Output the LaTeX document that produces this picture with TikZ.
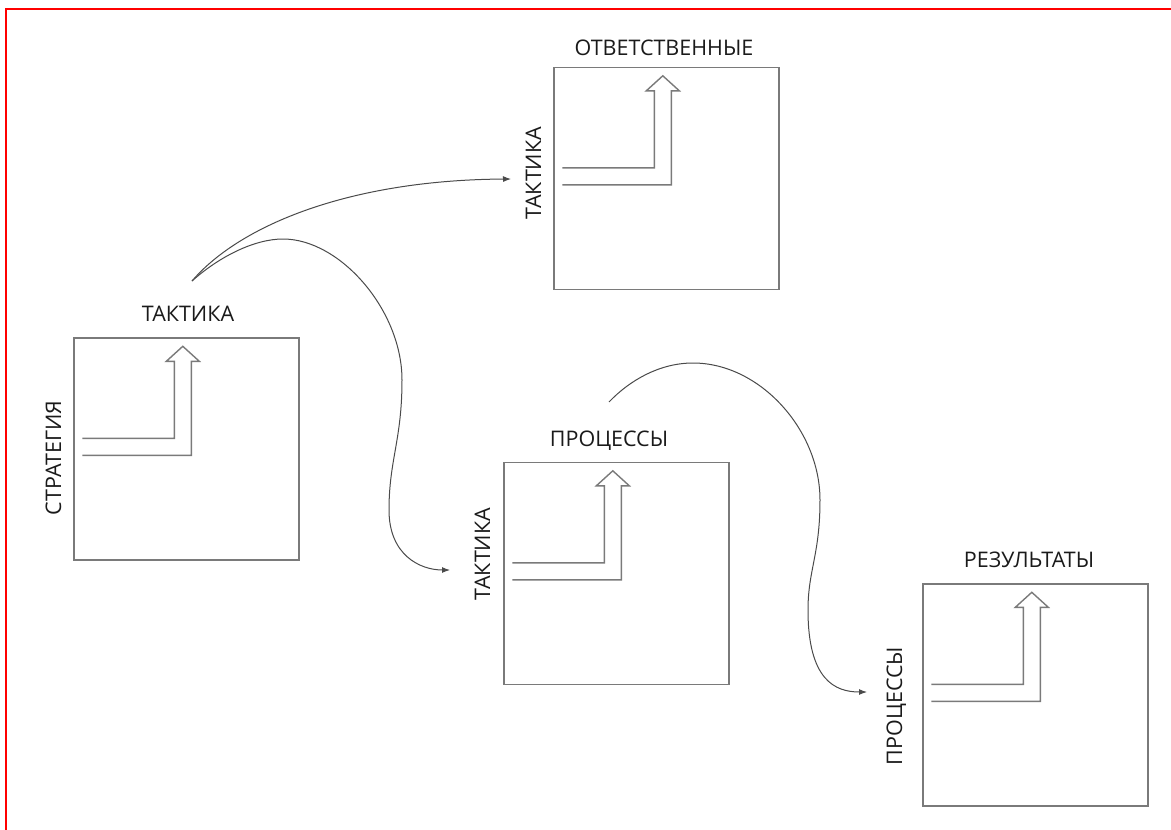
\documentclass[tikz,border=0pt]{standalone}
\usepackage{fontspec}
\setmainfont{Open Sans}
\usetikzlibrary{arrows.meta}
\definecolor{boxgray}{HTML}{7A7A7A}
\definecolor{curvegray}{HTML}{4A4A4A}
\definecolor{txt}{HTML}{1A1A1A}
\tikzset{
  box/.style={draw=boxgray, line width=1.4pt, minimum width=225pt, minimum height=222pt, inner sep=0pt},
  lbl/.style={text=txt, font=\fontsize{21.5}{24}\selectfont, inner sep=0pt, anchor=base},
  vlbl/.style={lbl, rotate=90},
  flow/.style={draw=curvegray, line width=1pt, -{Latex[length=8pt,width=6pt]}},
  bent/.pic={
    \draw[boxgray, line width=1.4pt, line join=miter]
      (9,101) -- (101,101) -- (101,24) -- (93,24) -- (109.5,9) -- (126,24) -- (118,24) -- (118,118) -- (9,118);
  }
}
\begin{document}
\begin{tikzpicture}[x=1pt,y=-1pt]
\useasboundingbox (0,0) rectangle (1171,830);
% red frame
\draw[red, line width=2.5pt] (6,830) -- (6,9) -- (1171,9);
% boxes
\node[box] (b1) at (186.5,449) {};
\node[box] (b2) at (666.5,178.5) {};
\node[box] (b3) at (616.5,573.5) {};
\node[box] (b4) at (1035.5,695) {};
\pic at (b1.north west) {bent};
\pic at (b2.north west) {bent};
\pic at (b3.north west) {bent};
\pic at (b4.north west) {bent};
% top labels
\node[lbl] (t1) at (188,321) {ТАКТИКА};
\node[lbl] (t2) at (664,55) {ОТВЕТСТВЕННЫЕ};
\node[lbl] (t3) at (609,446) {ПРОЦЕССЫ};
\node[lbl] (t4) at (1029,567) {РЕЗУЛЬТАТЫ};
% side labels
\node[vlbl] (s1) at (61,458) {СТРАТЕГИЯ};
\node[vlbl] (s2) at (541,173) {ТАКТИКА};
\node[vlbl] (s3) at (490,554) {ТАКТИКА};
\node[vlbl] (s4) at (902,706) {ПРОЦЕССЫ};
% connector ends
\coordinate (src1) at (192,281);
\coordinate (src2) at (609,402);
\coordinate (e2) at (511,179);
\coordinate (e3) at (450,570);
\coordinate (e4) at (867,692);
% curves
\draw[flow] (src1) .. controls (240,225) and (350,180) .. (e2);
\draw[flow] (src1) .. controls (220,256) and (255,239) .. (283,239)
  .. controls (340,239) and (402,310) .. (402,380)
  .. controls (402,440) and (389,460) .. (389,510)
  .. controls (389,555) and (420,570) .. (e3);
\draw[flow] (src2) .. controls (630,380) and (660,363) .. (693,363)
  .. controls (760,363) and (820,430) .. (820,500)
  .. controls (820,555) and (808,570) .. (808,610)
  .. controls (808,680) and (835,692) .. (e4);
\end{tikzpicture}
\end{document}
